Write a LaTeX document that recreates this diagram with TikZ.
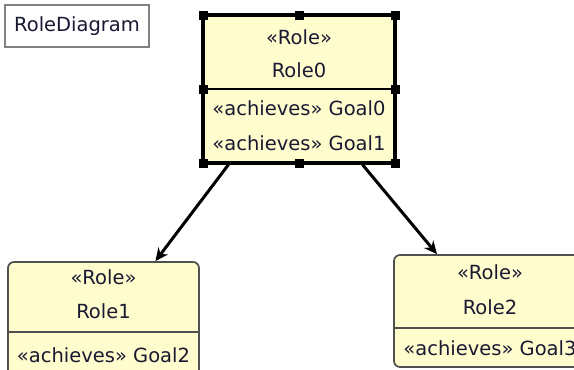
\documentclass[tikz,border=0pt]{standalone}
\usepackage{fontspec}
\setmainfont{DejaVu Sans}
\usetikzlibrary{arrows.meta}
\definecolor{rolefill}{RGB}{255,252,206}
\definecolor{rolegray}{RGB}{80,80,80}
\definecolor{roleink}{RGB}{25,25,50}

\tikzset{
  rolebox/.style={draw=rolegray, line width=1.7pt, fill=rolefill, rounded corners=6pt, inner sep=0pt},
  selbox/.style={draw=black, line width=3.2pt, fill=rolefill, inner sep=0pt},
  roletext/.style={text=roleink, inner sep=0pt},
  assoc/.style={line width=3pt, -{Stealth[length=13pt,width=12pt]}}
}

\begin{document}
\begin{tikzpicture}[x=1pt,y=-1pt,every node/.style={font=\fontsize{19.5}{22}\selectfont}]
\useasboundingbox (0,0) rectangle (574,370);
\fill[white] (0,0) rectangle (574,370);
\clip (0,0) rectangle (574,370);

% diagram name
\node[draw=gray, line width=1.6pt, fill=white, minimum width=144pt, minimum height=42pt, text=roleink] (diagname) at (77,26) {RoleDiagram};

% Role0 (selected)
\node[selbox, minimum width=192pt, minimum height=148pt] (role0) at (299,89) {};
\draw[line width=2.4pt] (203,89) -- (395,89);
\node[roletext] (role0st) at (299,37) {«Role»};
\node[roletext] (role0nm) at (299,70) {Role0};
\node[roletext] (role0g0) at (299,108) {«achieves» Goal0};
\node[roletext] (role0g1) at (299,143) {«achieves» Goal1};
\foreach \hx/\hy in {203/15,299/15,395/15,203/89,395/89,203/163,299/163,395/163}
  \fill (\hx-4.5,\hy-4.5) rectangle ++(9,9);

% Role1
\node[rolebox, minimum width=191pt, minimum height=122pt] (role1) at (103.5,323) {};
\draw[rolegray, line width=1.7pt] (8,332) -- (199,332);
\node[roletext] (role1st) at (103.5,277) {«Role»};
\node[roletext] (role1nm) at (103.5,311) {Role1};
\node[roletext] (role1g2) at (103.5,355) {«achieves» Goal2};

% Role2
\node[rolebox, minimum width=192pt, minimum height=112pt] (role2) at (490,311) {};
\draw[rolegray, line width=1.7pt] (394,328) -- (586,328);
\node[roletext] (role2st) at (490,272) {«Role»};
\node[roletext] (role2nm) at (490,307) {Role2};
\node[roletext] (role2g3) at (490,348) {«achieves» Goal3};

% connectors
\draw[assoc] (role0.227) -- (role1.50);
\draw[assoc] (role0.310) -- (role2.133);
\end{tikzpicture}
\end{document}
